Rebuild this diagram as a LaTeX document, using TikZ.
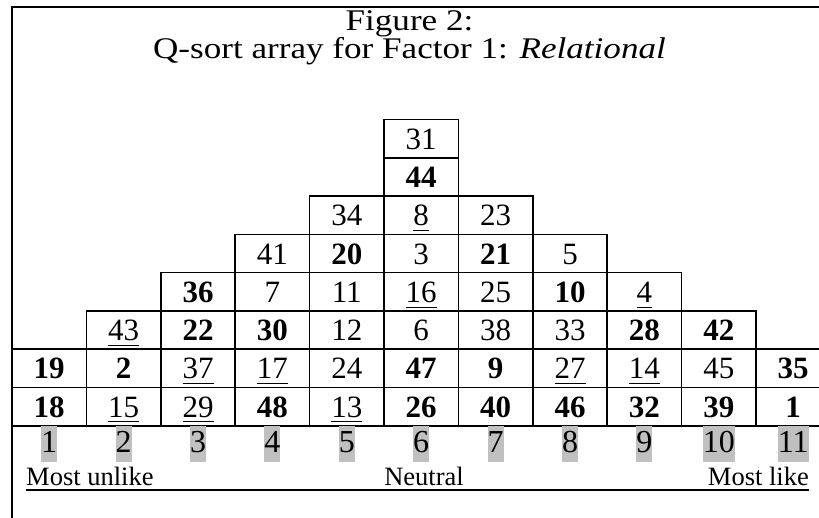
\documentclass[tikz,border=0pt]{standalone}
\usepackage{fontspec}
\setmainfont{Liberation Serif}
\newcommand\B[1]{\textbf{#1}}
\newcommand\U[1]{\underline{\raisebox{0pt}[\height][3pt]{#1}}}
\newcommand\wide[1]{\scalebox{1.17}[1]{#1}}
\definecolor{greybg}{RGB}{192,192,192}
\begin{document}
\begin{tikzpicture}[x=1pt,y=-1pt,
  cell/.style={draw, line width=1.6pt, minimum width=74.4pt, minimum height=38.3pt,
    inner sep=0pt, text height=21pt, text depth=0pt, font=\fontsize{31}{31}\selectfont},
  scorelabel/.style={fill=greybg, inner xsep=0pt, inner ysep=0pt, minimum height=36pt,
    text height=22pt, text depth=6pt, anchor=north, font=\fontsize{32}{32}\selectfont},
  titletext/.style={anchor=base, font=\fontsize{30}{30}\selectfont, inner sep=0pt},
  endtext/.style={anchor=base, font=\fontsize{26.5}{26.5}\selectfont, inner sep=0pt}]
\useasboundingbox (0,0) rectangle (819,518);
\clip (0,0) rectangle (819,518);
\fill[white] (0,0) rectangle (819,518);
% frame
\draw[line width=2.4pt] (12,530) -- (12,7) -- (830,7);
% title
\node[titletext] (t1) at (409.5,31) {\wide{Figure 2:}};
\node[titletext] (t2) at (409.5,59) {\wide{Q-sort array for Factor 1: \textit{Relational}}};
% cells
\foreach \c/\r/\t in {
  1/6/\B{19}, 1/7/\B{18},
  2/5/\U{43}, 2/6/\B{2}, 2/7/\U{15},
  3/4/\B{36}, 3/5/\B{22}, 3/6/\U{37}, 3/7/\U{29},
  4/3/41, 4/4/7, 4/5/\B{30}, 4/6/\U{17}, 4/7/\B{48},
  5/2/34, 5/3/\B{20}, 5/4/11, 5/5/12, 5/6/24, 5/7/\U{13},
  6/0/31, 6/1/\B{44}, 6/2/\U{8}, 6/3/3, 6/4/\U{16}, 6/5/6, 6/6/\B{47}, 6/7/\B{26},
  7/2/23, 7/3/\B{21}, 7/4/25, 7/5/38, 7/6/\B{9}, 7/7/\B{40},
  8/3/5, 8/4/\B{10}, 8/5/33, 8/6/\U{27}, 8/7/\B{46},
  9/4/\U{4}, 9/5/\B{28}, 9/6/\U{14}, 9/7/\B{32},
  10/5/\B{42}, 10/6/45, 10/7/\B{39},
  11/6/\B{35}, 11/7/\B{1}}
  \node[cell] (n-\c-\r) at ({12+(\c-0.5)*74.4},{119.5+(\r+0.5)*38.3}) {\t};
% score labels
\foreach \c in {1,...,11}
  \node[scorelabel] (s-\c) at ({12+(\c-0.5)*74.4},426) {\c};
% bottom labels
\node[endtext, anchor=base west] (mu) at (26,485.5) {Most unlike};
\node[endtext] (ne) at (424,485.5) {Neutral};
\node[endtext, anchor=base east] (ml) at (809,485.5) {Most like};
\draw[line width=1.4pt] ([yshift=-4.5pt]mu.base west) -- ([yshift=-4.5pt]ml.base east);
\end{tikzpicture}
\end{document}
